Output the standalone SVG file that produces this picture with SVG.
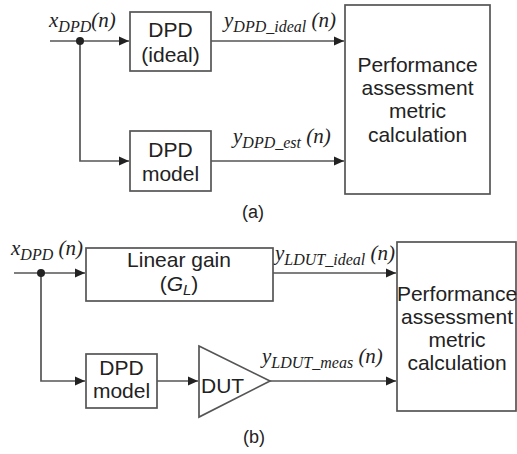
<svg xmlns="http://www.w3.org/2000/svg" width="517" height="454" viewBox="0 0 517 454">
<defs>
<marker id="arr" viewBox="0 0 10 10" refX="10" refY="5" markerWidth="10" markerHeight="10" markerUnits="userSpaceOnUse" orient="auto">
<path d="M0,0.5 L10,5 L0,9.5 Z" fill="#222"/>
</marker>
<style>
.box{fill:#fff;stroke:#555;stroke-width:1.7}
.ln{fill:none;stroke:#555;stroke-width:1.7}
.t{font-family:"Liberation Sans",Arial,sans-serif;font-size:21px;fill:#222;text-anchor:middle}
.m{font-family:"Liberation Serif","Times New Roman",serif;font-style:italic;font-size:21px;fill:#222}
.s{font-size:16px}
.cap{font-family:"Liberation Sans",Arial,sans-serif;font-size:18px;fill:#222;text-anchor:middle}
</style>
</defs>
<rect width="517" height="454" fill="#fff"/>
<g id="connectors">
<path class="ln" d="M50,41 H129" marker-end="url(#arr)"/>
<path class="ln" d="M80,41 V161 H129" marker-end="url(#arr)"/>
<path class="ln" d="M211,41 H344" marker-end="url(#arr)"/>
<path class="ln" d="M211,161 H344" marker-end="url(#arr)"/>
<circle cx="80" cy="41" r="4" fill="#222"/>
<path class="ln" d="M14,273 H85" marker-end="url(#arr)"/>
<path class="ln" d="M41,273 V381 H85" marker-end="url(#arr)"/>
<path class="ln" d="M157,381 H198" marker-end="url(#arr)"/>
<path class="ln" d="M273,273 H396" marker-end="url(#arr)"/>
<path class="ln" d="M270,381 H396" marker-end="url(#arr)"/>
<circle cx="41" cy="273" r="4" fill="#222"/>
</g>
<g id="label-x-a"><text class="m" x="49" y="27">x<tspan class="s" dy="5">DPD</tspan><tspan dy="-5">(n)</tspan></text></g>
<g id="label-y-ideal-a"><text class="m" x="224" y="27">y<tspan class="s" dy="5">DPD_ideal</tspan><tspan dy="-5"> (n)</tspan></text></g>
<g id="label-y-est-a"><text class="m" x="233" y="143">y<tspan class="s" dy="5">DPD_est</tspan><tspan dy="-5"> (n)</tspan></text></g>
<g id="dpd-ideal"><rect class="box" x="130" y="12" width="81" height="59"/><text class="t" x="170.5" y="37">DPD</text><text class="t" x="170.5" y="62">(ideal)</text></g>
<g id="dpd-model-a"><rect class="box" x="130" y="131" width="81" height="60"/><text class="t" x="170.5" y="157">DPD</text><text class="t" x="170.5" y="181">model</text></g>
<g id="perf-a"><rect class="box" x="345" y="5" width="145" height="189"/><text class="t" x="417.5" y="72">Performance</text><text class="t" x="417.5" y="95">assessment</text><text class="t" x="417.5" y="118">metric</text><text class="t" x="417.5" y="142">calculation</text></g>
<g id="cap-a"><text class="cap" x="253" y="218">(a)</text></g>
<g id="label-x-b"><text class="m" x="11" y="255">x<tspan class="s" dy="5">DPD</tspan><tspan dy="-5"> (n)</tspan></text></g>
<g id="label-y-ideal-b"><text class="m" x="275" y="260">y<tspan class="s" dy="5">LDUT_ideal</tspan><tspan dy="-5"> (n)</tspan></text></g>
<g id="label-y-meas-b"><text class="m" x="262" y="363">y<tspan class="s" dy="5">LDUT_meas</tspan><tspan dy="-5"> (n)</tspan></text></g>
<g id="linear-gain"><rect class="box" x="86" y="248" width="187" height="53"/><text class="t" x="179" y="267">Linear gain</text><text class="t" x="179" y="291">(<tspan font-style="italic">G</tspan><tspan font-style="italic" font-size="15px" dy="4">L</tspan><tspan dy="-4">)</tspan></text></g>
<g id="dpd-model-b"><rect class="box" x="86" y="354" width="71" height="54"/><text class="t" x="121.5" y="375">DPD</text><text class="t" x="121.5" y="398">model</text></g>
<g id="dut"><path class="box" d="M199,346 L270,381 L199,417 Z"/><text class="t" x="201" y="393" style="text-anchor:start">DUT</text></g>
<g id="perf-b"><rect class="box" x="397" y="242" width="119" height="169"/><text class="t" x="457" y="301">Performance</text><text class="t" x="457" y="324">assessment</text><text class="t" x="457" y="347">metric</text><text class="t" x="457" y="370">calculation</text></g>
<g id="cap-b"><text class="cap" x="254" y="443">(b)</text></g>
</svg>
